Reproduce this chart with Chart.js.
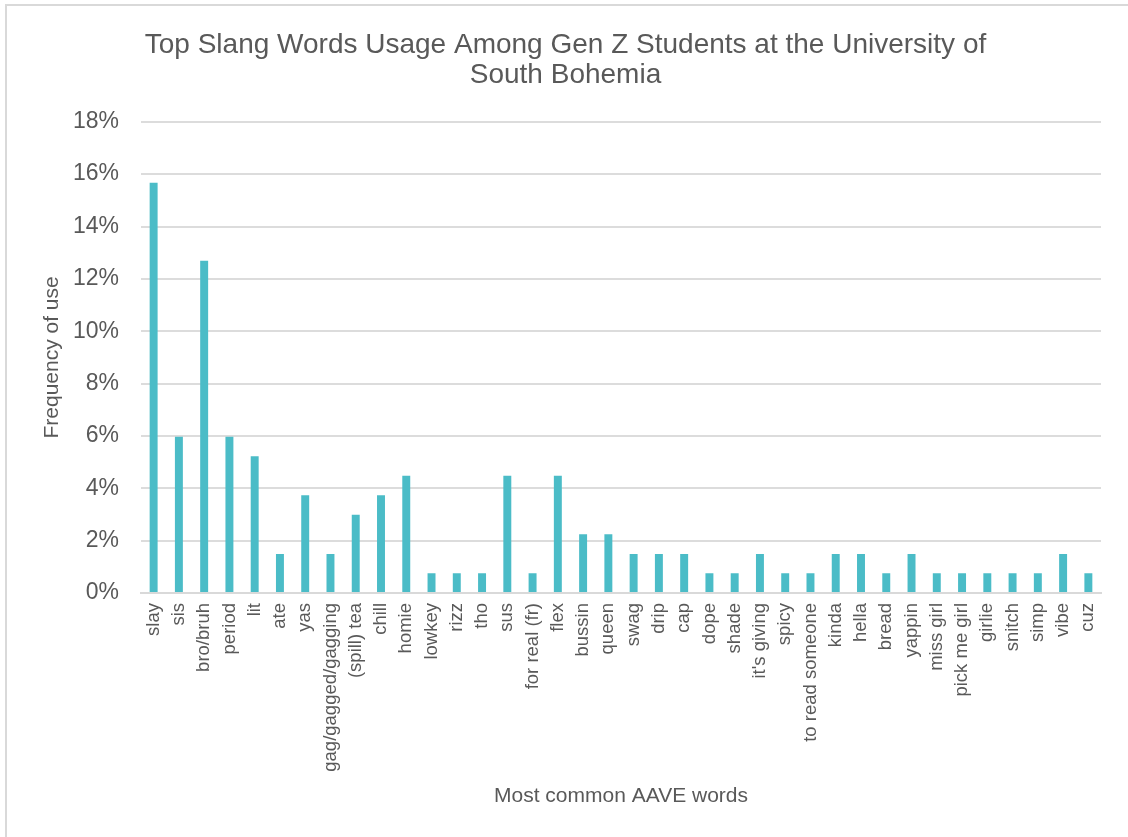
<!DOCTYPE html>
<html>
<head>
<meta charset="utf-8">
<script src="https://cdn.jsdelivr.net/npm/chart.js@4/dist/chart.umd.min.js"></script>
<style>
  html, body { margin: 0; padding: 0; background: #ffffff; }
  #wrap { width: 1128px; height: 837px; position: relative; }
</style>
</head>
<body>
<div id="wrap"><canvas id="c" width="1128" height="837"></canvas></div>
<script>
const titleLines = ["Top Slang Words Usage Among Gen Z Students at the University of", "South Bohemia"];
const categories = ["slay", "sis", "bro/bruh", "period", "lit", "ate", "yas", "gag/gagged/gagging",
  "(spill) tea", "chill", "homie", "lowkey", "rizz", "tho", "sus", "for real (fr)", "flex", "bussin",
  "queen", "swag", "drip", "cap", "dope", "shade", "it's giving", "spicy", "to read someone", "kinda",
  "hella", "bread", "yappin", "miss girl", "pick me girl", "girlie", "snitch", "simp", "vibe", "cuz"];
const frequency = [15.67, 5.97, 12.69, 5.97, 5.22, 1.49, 3.73, 1.49,
  2.99, 3.73, 4.48, 0.75, 0.75, 0.75, 4.48, 0.75, 4.48, 2.24,
  2.24, 1.49, 1.49, 1.49, 0.75, 0.75, 1.49, 0.75, 0.75, 1.49,
  1.49, 0.75, 1.49, 0.75, 0.75, 0.75, 0.75, 0.75, 1.49, 0.75];
const yTickMin = 0;
const yTickMax = 18;
const yTickStep = 2;
const xAxisTitle = "Most common AAVE words";
const yAxisTitle = "Frequency of use";

const FONT = "'Liberation Sans', Arial, sans-serif";
const TEXT = "#595959";

const framePlugin = {
  id: 'frame',
  beforeDraw(chart) {
    const ctx = chart.ctx;
    ctx.save();
    ctx.fillStyle = '#ffffff';
    ctx.fillRect(0, 0, chart.width, chart.height);
    ctx.strokeStyle = '#d9d9d9';
    ctx.lineWidth = 2;
    ctx.beginPath();
    ctx.moveTo(5, 5);
    ctx.lineTo(chart.width, 5);
    ctx.moveTo(6, 4);
    ctx.lineTo(6, chart.height);
    ctx.stroke();
    ctx.restore();
  }
};

new Chart(document.getElementById('c'), {
  type: 'bar',
  data: {
    labels: categories,
    datasets: [{
      data: frequency,
      backgroundColor: '#4BBCC7',
      borderWidth: 0,
      categoryPercentage: 1,
      barPercentage: 0.315
    }]
  },
  options: {
    responsive: false,
    animation: false,
    layout: { padding: { left: 30, right: 27, top: 0, bottom: 20 } },
    plugins: {
      legend: { display: false },
      tooltip: { enabled: false },
      title: {
        display: true,
        text: titleLines,
        color: TEXT,
        font: { family: FONT, size: 28, weight: 'normal', lineHeight: 1.05 },
        padding: { top: 31, bottom: 32 }
      }
    },
    scales: {
      x: {
        grid: { display: false, drawTicks: false },
        border: { display: true, color: '#d9d9d9', width: 2 },
        ticks: {
          color: TEXT,
          font: { family: FONT, size: 18.5 },
          minRotation: 90,
          maxRotation: 90,
          autoSkip: false,
          padding: 10
        },
        title: {
          display: true,
          text: xAxisTitle,
          color: TEXT,
          font: { family: FONT, size: 21 },
          padding: { top: 0, bottom: 8 }
        },
        afterFit(scale) { scale.height = 224; }
      },
      y: {
        min: yTickMin,
        max: yTickMax,
        grid: { color: '#dcdcdc', lineWidth: 2, drawTicks: false },
        border: { display: false },
        ticks: {
          stepSize: yTickStep,
          color: TEXT,
          font: { family: FONT, size: 23 },
          padding: 22,
          callback: (v) => v + '%'
        },
        title: {
          display: true,
          text: yAxisTitle,
          color: TEXT,
          font: { family: FONT, size: 21 },
          padding: { top: 10, bottom: 0 }
        },
        afterFit(scale) { scale.width = 111; }
      }
    }
  },
  plugins: [framePlugin]
});
</script>
</body>
</html>
